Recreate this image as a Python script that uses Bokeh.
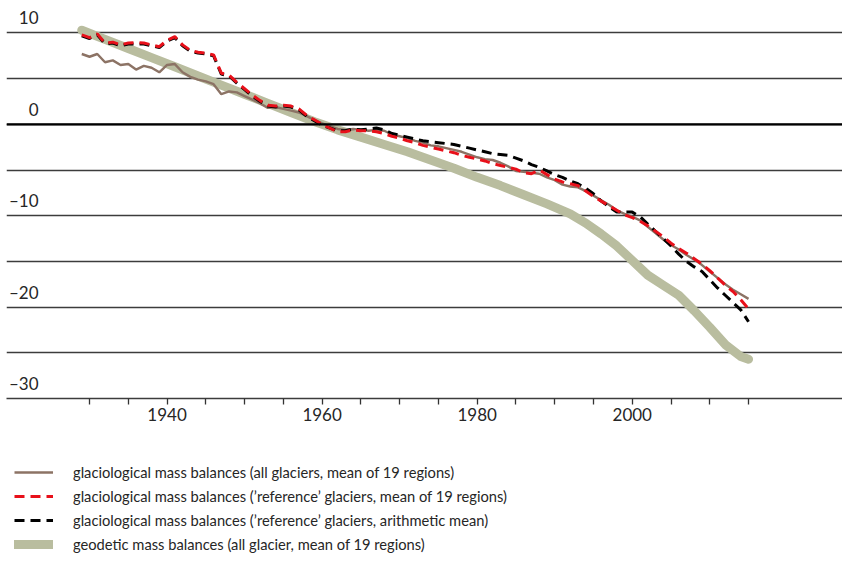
from bokeh.plotting import figure
from bokeh.layouts import column
from bokeh.models import Range1d, FixedTicker, Label, Span, Legend, LegendItem
from bokeh.embed import file_html
from bokeh.resources import INLINE

# ---------------- data ----------------
years = list(range(1929, 2016))

# glaciological mass balances (all glaciers, mean of 19 regions)
brown = [7.7,
         7.4, 7.7, 6.8, 7.0, 6.5, 6.6, 6.0, 6.4, 6.2, 5.7,
         6.5, 6.6, 5.7, 5.2, 4.9, 4.7, 4.4, 3.3, 3.6, 3.5,
         3.1, 2.7, 2.3, 1.8, 1.9, 1.7, 1.5, 1.3, 0.9, 0.5,
         0.1, -0.2, -0.5, -0.6, -0.5, -0.6, -0.7, -0.6, -0.7, -1.1,
         -1.3, -1.5, -1.8, -2.0, -2.3, -2.4, -2.6, -2.8, -3.0, -3.3,
         -3.6, -3.8, -3.9, -4.2, -4.6, -5.1, -5.2, -5.3, -5.4, -5.8,
         -6.1, -6.6, -6.8, -6.9, -7.3, -7.8, -8.3, -8.8, -9.4, -9.8,
         -10.1, -10.5, -11.2, -11.9, -12.6, -13.2, -13.7, -14.3, -14.8, -15.4,
         -16.1, -16.8, -17.5, -18.1, -18.6, -19.1]

# glaciological mass balances ('reference' glaciers, mean of 19 regions)
red = [9.8,
       9.5, 9.9, 8.9, 9.0, 8.7, 8.9, 8.95, 8.9, 8.7, 8.5,
       9.2, 9.6, 8.7, 8.1, 7.9, 7.8, 7.6, 5.6, 5.4, 4.6,
       3.9, 3.2, 2.6, 2.1, 2.0, 2.1, 2.0, 1.7, 1.0, 0.5,
       0.0, -0.4, -0.8, -0.8, -0.6, -0.7, -0.7, -0.8, -1.0, -1.3,
       -1.5, -1.8, -2.0, -2.3, -2.5, -2.7, -2.9, -3.1, -3.4, -3.6,
       -3.8, -4.0, -4.3, -4.5, -4.7, -4.9, -5.3, -5.4, -5.0, -5.5,
       -6.0, -6.3, -6.5, -6.7, -7.3, -7.9, -8.4, -8.9, -9.4, -9.9,
       -10.2, -10.6, -11.1, -11.7, -12.3, -13.0, -13.6, -14.1, -14.7, -15.3,
       -16.0, -16.8, -17.6, -18.3, -19.2, -20.2]

# glaciological mass balances ('reference' glaciers, arithmetic mean)
black = [9.7,
         9.4, 9.8, 8.8, 8.9, 8.6, 8.8, 8.8, 8.8, 8.6, 8.4,
         9.1, 9.5, 8.6, 8.0, 7.8, 7.7, 7.5, 5.5, 5.3, 4.5,
         3.8, 3.1, 2.5, 2.0, 1.9, 2.0, 1.9, 1.6, 0.9, 0.4,
         -0.1, -0.4, -0.7, -0.7, -0.5, -0.6, -0.5, -0.4, -0.6, -1.0,
         -1.2, -1.4, -1.6, -1.8, -1.9, -2.0, -2.1, -2.2, -2.4, -2.6,
         -2.8, -3.0, -3.2, -3.3, -3.4, -3.7, -4.0, -4.4, -4.7, -5.1,
         -5.5, -5.8, -6.2, -6.5, -7.0, -7.6, -8.4, -9.0, -9.6, -9.6,
         -9.6, -10.1, -10.9, -11.7, -12.5, -13.3, -14.2, -15.0, -15.6, -16.1,
         -17.0, -17.9, -18.7, -19.5, -20.3, -21.6]

# geodetic mass balances (all glacier, mean of 19 regions)
geo_years = [1929, 1932, 1935, 1938, 1941, 1944, 1947, 1950, 1953, 1956, 1959,
             1962, 1965, 1968, 1971, 1974, 1977, 1980, 1983, 1986, 1989,
             1992, 1994, 1996, 1998, 2000, 2002, 2004, 2006, 2008, 2010,
             2012, 2014, 2015]
geo = [10.3, 9.3, 8.3, 7.3, 6.3, 5.3, 4.3, 3.3, 2.3, 1.3, 0.3,
       -0.6, -1.4, -2.2, -3.0, -3.9, -4.8, -5.8, -6.7, -7.7, -8.7,
       -9.8, -10.8, -12.0, -13.3, -14.9, -16.5, -17.6, -18.7, -20.4, -22.2,
       -24.1, -25.4, -25.7]

y_grid = [-30, -25, -20, -15, -10, -5, 0, 5, 10]
y_tick_values = [10, 0, -10, -20, -30]
y_tick_labels = ["10", "0", "\u201310", "\u201320", "\u201330"]
x_ticks = [1930, 1935, 1940, 1945, 1950, 1955, 1960, 1965, 1970, 1975,
           1980, 1985, 1990, 1995, 2000, 2005, 2010, 2015]
x_tick_labels = {1940: "1940", 1960: "1960", 1980: "1980", 2000: "2000"}

legend_labels = [
    "glaciological mass balances (all glaciers, mean of 19 regions)",
    "glaciological mass balances (\u2019reference\u2019 glaciers, mean of 19 regions)",
    "glaciological mass balances (\u2019reference\u2019 glaciers, arithmetic mean)",
    "geodetic mass balances (all glacier, mean of 19 regions)",
]

FONT = "Lato"
TEXT = "#262626"

BROWN = dict(line_color="#8c7365", line_width=2.4)
RED = dict(line_color="#e8101a", line_width=3, line_dash="10 6")
BLACK = dict(line_color="black", line_width=3, line_dash="10 6")
GEO = dict(line_color="#b9bd9f", line_width=9, line_cap="round", line_join="round")

# ---------------- chart ----------------
p = figure(frame_width=836, frame_height=390,
           x_range=Range1d(1919.29, 2027.12), y_range=Range1d(-30, 12.68),
           output_backend="svg", toolbar_location=None, y_axis_location=None,
           min_border_left=6, min_border_right=0, min_border_top=8,
           min_border_bottom=32, outline_line_color=None,
           background_fill_color="white", border_fill_color="white")

p.xgrid.visible = False
p.ygrid.ticker = FixedTicker(ticks=y_grid)
p.ygrid.grid_line_color = "#3c3c3c"
p.ygrid.grid_line_width = 1.3

p.add_layout(Span(location=0, dimension="width", line_color="black", line_width=2.3))

ax = p.xaxis[0]
ax.ticker = FixedTicker(ticks=x_ticks)
ax.major_label_overrides = {t: x_tick_labels.get(t, "") for t in x_ticks}
ax.minor_tick_line_color = None
ax.axis_line_color = "#3c3c3c"
ax.axis_line_width = 1.5
ax.major_tick_line_color = "#333333"
ax.major_tick_line_width = 1.3
ax.major_tick_in = 0
ax.major_tick_out = 6
ax.major_label_standoff = 3
ax.major_label_text_font = FONT
ax.major_label_text_font_size = "17px"
ax.major_label_text_color = TEXT

for v, t in zip(y_tick_values, y_tick_labels):
    p.add_layout(Label(x=32, y=v, x_units="screen", y_units="data", text=t,
                       text_align="right", text_baseline="alphabetic", y_offset=15,
                       text_font=FONT, text_font_size="17px", text_color=TEXT))

p.line(geo_years, geo, **GEO)
p.line(years, brown, **BROWN)
p.line(years, black, **BLACK)
p.line(years, red, **RED)

# ---------------- legend (its own panel below the chart) ----------------
lg = figure(width=842, height=142, x_range=Range1d(0, 1), y_range=Range1d(0, 1),
            output_backend="svg", toolbar_location=None,
            x_axis_location=None, y_axis_location=None, min_border=0,
            outline_line_color=None, background_fill_color="white",
            border_fill_color="white")
lg.xgrid.visible = False
lg.ygrid.visible = False
# same series, out of this panel's view: only their legend swatches show
l_brown = lg.line(years, brown, **BROWN)
l_red = lg.line(years, red, **RED)
l_black = lg.line(years, black, **BLACK)
l_geo = lg.line(geo_years, geo, **GEO)

legend = Legend(items=[LegendItem(label=legend_labels[0], renderers=[l_brown]),
                       LegendItem(label=legend_labels[1], renderers=[l_red]),
                       LegendItem(label=legend_labels[2], renderers=[l_black]),
                       LegendItem(label=legend_labels[3], renderers=[l_geo])],
                location=(8, 18), orientation="vertical",
                glyph_width=39, glyph_height=20, spacing=4, label_standoff=20,
                padding=0, margin=0, border_line_color=None,
                background_fill_color=None,
                label_text_font=FONT, label_text_font_size="14.7px",
                label_text_color=TEXT)
lg.add_layout(legend, "center")

open("out.html", "w").write(file_html(column(p, lg, spacing=0), INLINE))
